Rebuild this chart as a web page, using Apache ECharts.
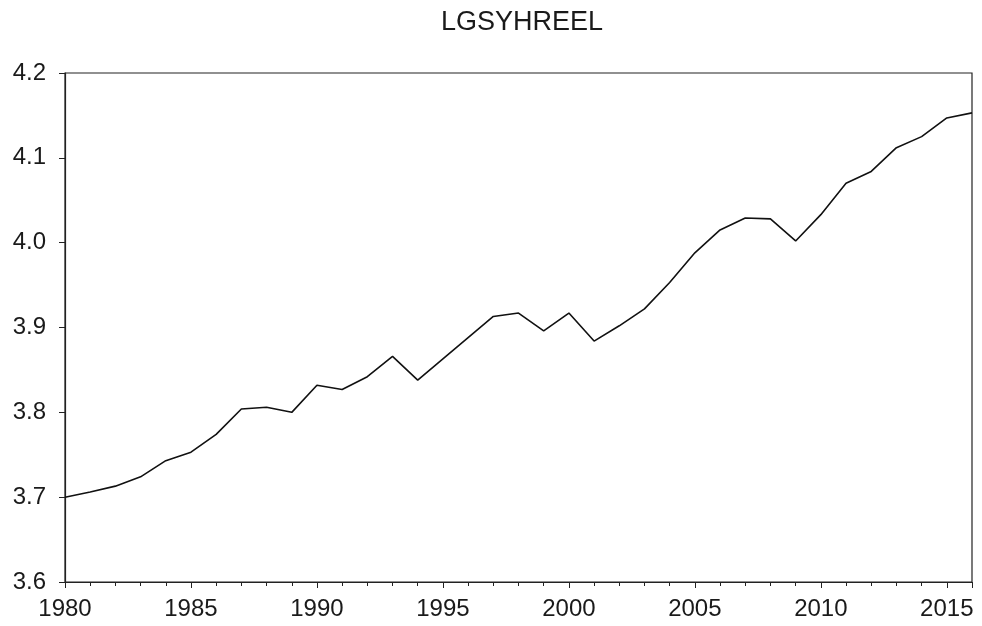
<!DOCTYPE html>
<html>
<head>
<meta charset="utf-8">
<script src="https://cdn.jsdelivr.net/npm/echarts@6/dist/echarts.min.js"></script>
<style>
html,body{margin:0;padding:0;background:#fff;}
#chart{width:982px;height:626px;}
</style>
</head>
<body>
<div id="chart"></div>
<script>
const titleText = "LGSYHREEL";
const years = [1980,1981,1982,1983,1984,1985,1986,1987,1988,1989,1990,1991,1992,1993,1994,1995,1996,1997,1998,1999,2000,2001,2002,2003,2004,2005,2006,2007,2008,2009,2010,2011,2012,2013,2014,2015,2016];
const values = [3.700,3.706,3.713,3.724,3.743,3.753,3.774,3.804,3.806,3.800,3.832,3.827,3.842,3.866,3.838,3.863,3.888,3.913,3.917,3.896,3.917,3.884,3.902,3.922,3.953,3.988,4.015,4.029,4.028,4.002,4.033,4.070,4.084,4.112,4.125,4.147,4.153];
const yTicks = [3.6,3.7,3.8,3.9,4.0,4.1,4.2];

const chart = echarts.init(document.getElementById('chart'));
const font = "'Liberation Sans', Arial, sans-serif";
chart.setOption({
  backgroundColor: '#fff',
  animation: false,
  title: {
    text: titleText, left: 517, top: 4, textAlign: 'center',
    textStyle: {fontFamily: font, fontSize: 27, fontWeight: 'normal', color: '#1a1a1a'}
  },
  grid: {left: 65, right: 10, top: 73, bottom: 44, show: true, borderColor: '#222', borderWidth: 1.2, backgroundColor: '#fff'},
  xAxis: {
    type: 'value', min: 1980, max: 2016, interval: 5,
    axisLine: {show: true, onZero: false, lineStyle: {color: '#222', width: 1.2}},
    axisTick: {show: true, length: 6, lineStyle: {color: '#222'}},
    minorTick: {show: true, splitNumber: 5, length: 4, lineStyle: {color: '#222'}},
    splitLine: {show: false},
    axisLabel: {fontFamily: font, fontSize: 24, color: '#1a1a1a', margin: 15,
      formatter: v => (v % 5 === 0 ? String(v) : '')}
  },
  yAxis: {
    type: 'value', min: yTicks[0], max: yTicks[yTicks.length-1], interval: 0.1,
    axisLine: {show: true, lineStyle: {color: '#222', width: 1.2}},
    axisTick: {show: true, length: 6, lineStyle: {color: '#222'}},
    splitLine: {show: false},
    axisLabel: {fontFamily: font, fontSize: 24, color: '#1a1a1a', margin: 19,
      formatter: v => v.toFixed(1)}
  },
  series: [{
    type: 'line',
    data: years.map((y, i) => [y, values[i]]),
    showSymbol: false,
    lineStyle: {color: '#111', width: 1.6},
    itemStyle: {color: '#111'}
  }]
});
</script>
</body>
</html>
